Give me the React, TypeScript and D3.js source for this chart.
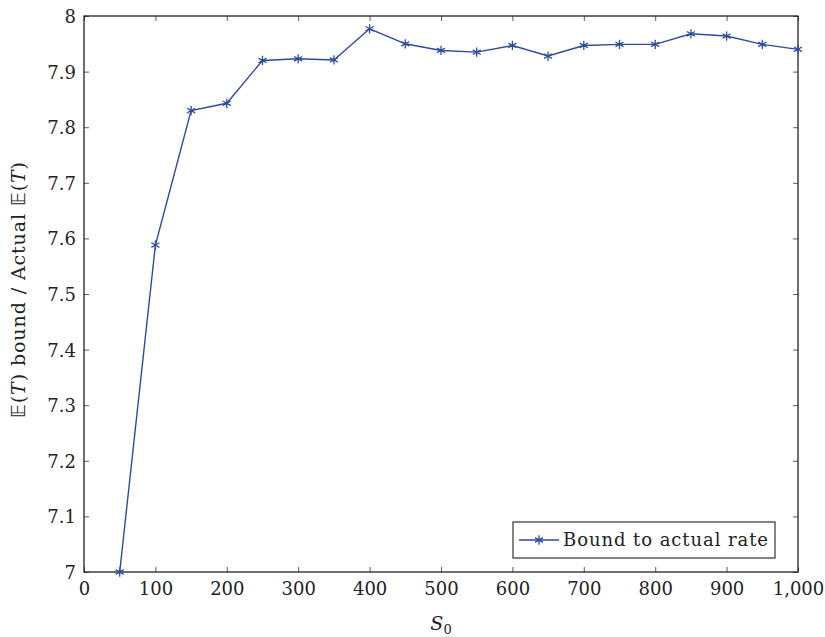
import React, { useRef, useEffect } from 'react';
import * as d3 from 'd3';

// S0 values and the measured ratio of the E(T) bound to actual E(T)
const s0Values = [50, 100, 150, 200, 250, 300, 350, 400, 450, 500, 550, 600, 650, 700, 750, 800, 850, 900, 950, 1000];
const ratioValues = [7.0, 7.588, 7.83, 7.843, 7.92, 7.923, 7.921, 7.977, 7.95, 7.938, 7.935, 7.947, 7.928, 7.947, 7.949, 7.949, 7.968, 7.964, 7.949, 7.94];
const xTicks = [0, 100, 200, 300, 400, 500, 600, 700, 800, 900, 1000];
const yTicks = [7, 7.1, 7.2, 7.3, 7.4, 7.5, 7.6, 7.7, 7.8, 7.9, 8];
const seriesName = 'Bound to actual rate';

const App: React.FC = () => {
    const svgRef = useRef<SVGSVGElement | null>(null);

    useEffect(() => {
        if (!svgRef.current) return;
        const svg = d3.select(svgRef.current);
        svg.selectAll('*').remove();

        const W = 825, H = 637;
        const margin = { top: 16, right: 27, bottom: 65, left: 84 };
        const width = W - margin.left - margin.right;
        const height = H - margin.top - margin.bottom;
        const font = 'DejaVu Serif';
        const blue = '#2d4b9e';

        svg.attr('width', W).attr('height', H).attr('font-family', font);
        const g = svg.append('g').attr('transform', `translate(${margin.left},${margin.top})`);

        const x = d3.scaleLinear().domain([0, 1000]).range([0, width]);
        const y = d3.scaleLinear().domain([7, 8]).range([height, 0]);
        const tickLen = 5;

        // inward ticks on all sides
        const bottomAx = g.append('g').attr('transform', `translate(0,${height})`)
            .call(d3.axisBottom(x).tickValues(xTicks).tickSize(-tickLen).tickPadding(9).tickFormat(d3.format(',')));
        const topAx = g.append('g')
            .call(d3.axisTop(x).tickValues(xTicks).tickSize(-tickLen).tickFormat(() => ''));
        const leftAx = g.append('g')
            .call(d3.axisLeft(y).tickValues(yTicks).tickSize(-tickLen).tickPadding(8).tickFormat(d => String(+d)));
        const rightAx = g.append('g').attr('transform', `translate(${width},0)`)
            .call(d3.axisRight(y).tickValues(yTicks).tickSize(-tickLen).tickFormat(() => ''));

        [bottomAx, topAx, leftAx, rightAx].forEach(ax => {
            ax.attr('font-family', font).attr('font-size', 18);
            ax.select('.domain').remove();
            ax.selectAll('line').attr('stroke', '#333').attr('stroke-width', 0.8);
            ax.selectAll('text').attr('fill', '#222');
        });
        leftAx.selectAll('text').attr('dy', '0.36em');
        bottomAx.selectAll('text').attr('dy', '0.75em');

        g.append('rect').attr('width', width).attr('height', height)
            .attr('fill', 'none').attr('stroke', '#222').attr('stroke-width', 1.3);

        const line = d3.line<number>()
            .x((_, i) => x(s0Values[i]))
            .y(d => y(d));

        g.append('path').datum(ratioValues)
            .attr('d', line)
            .attr('fill', 'none').attr('stroke', blue).attr('stroke-width', 1.4);

        const star = d3.symbol().type(d3.symbolAsterisk).size(60);
        g.selectAll('path.mark').data(ratioValues).enter().append('path')
            .attr('class', 'mark')
            .attr('transform', (d, i) => `translate(${x(s0Values[i])},${y(d)})`)
            .attr('d', star)
            .attr('fill', 'none').attr('stroke', blue).attr('stroke-width', 1.3);

        // legend
        const lg = g.append('g').attr('transform', `translate(${x(1000) - 285},${y(7) - 50})`);
        lg.append('rect').attr('width', 262).attr('height', 36)
            .attr('fill', 'white').attr('stroke', '#222').attr('stroke-width', 1.1);
        lg.append('line').attr('x1', 6).attr('x2', 46).attr('y1', 18).attr('y2', 18)
            .attr('stroke', blue).attr('stroke-width', 1.4);
        lg.append('path').attr('transform', 'translate(26,18)').attr('d', star)
            .attr('fill', 'none').attr('stroke', blue).attr('stroke-width', 1.3);
        lg.append('text').attr('x', 50).attr('y', 18).attr('dy', '0.35em')
            .attr('font-family', font).attr('font-size', 18).attr('fill', '#222')
            .attr('textLength', 205)
            .text(seriesName);

        // axis labels
        const xl = svg.append('text')
            .attr('x', margin.left + width / 2).attr('y', 630)
            .attr('text-anchor', 'middle').attr('fill', '#222')
            .attr('font-family', font).attr('font-size', 19);
        xl.append('tspan').attr('font-style', 'italic').text('S');
        xl.append('tspan').attr('dy', 4).attr('font-size', 13).text('0');

        const yl = svg.append('text')
            .attr('transform', `translate(25,${margin.top + height / 2 - 4}) rotate(-90)`)
            .attr('text-anchor', 'middle').attr('fill', '#222')
            .attr('font-family', font).attr('font-size', 19)
            .attr('textLength', 256);
        yl.append('tspan').attr('font-family', 'DejaVu Sans').text('𝔼');
        yl.append('tspan').text('(');
        yl.append('tspan').attr('font-style', 'italic').text('T');
        yl.append('tspan').text(') bound / Actual ');
        yl.append('tspan').attr('font-family', 'DejaVu Sans').text('𝔼');
        yl.append('tspan').text('(');
        yl.append('tspan').attr('font-style', 'italic').text('T');
        yl.append('tspan').text(')');
    }, []);

    return (
        <div style={{ position: 'absolute', left: 0, top: 0, width: 825, height: 637, background: 'white' }}>
            <svg ref={svgRef}></svg>
        </div>
    );
};

export default App;
